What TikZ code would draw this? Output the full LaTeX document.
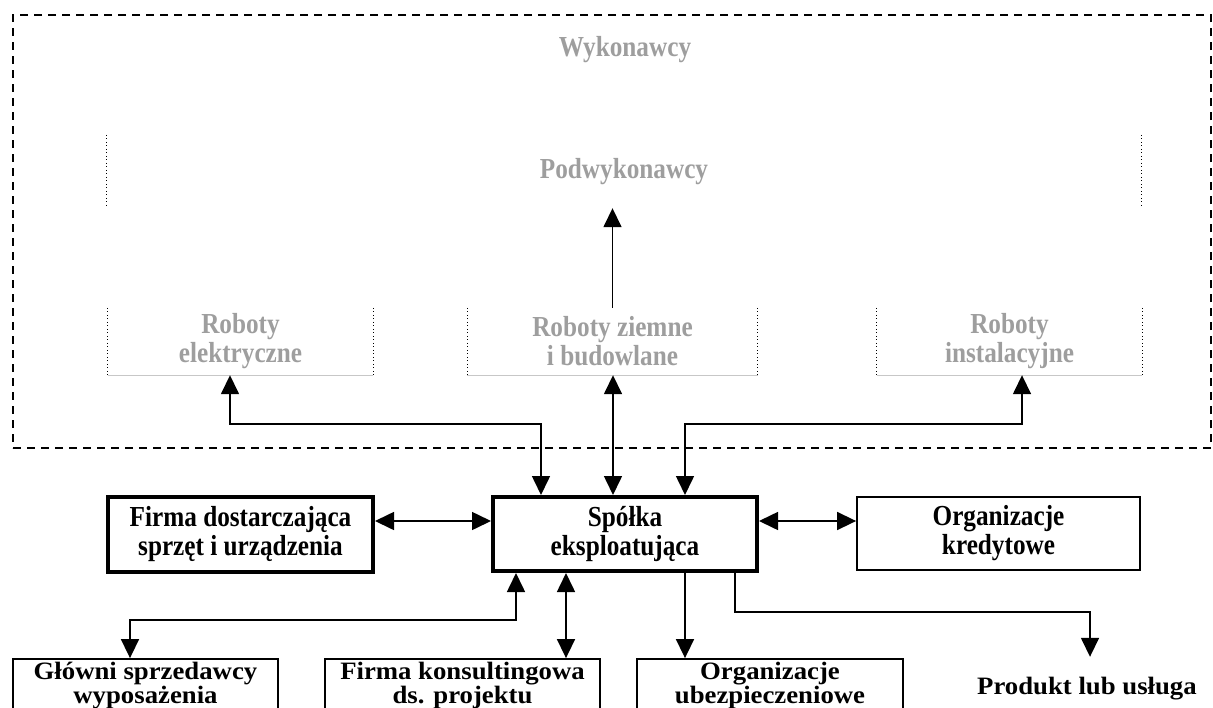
\documentclass[tikz,border=0pt]{standalone}
\usepackage{fontspec}
\newfontfamily\labfont{Liberation Serif}[FakeStretch=0.87]
\newfontfamily\lowfont{Liberation Serif}[FakeStretch=1.07]
\usetikzlibrary{arrows.meta}
\begin{document}
\begin{tikzpicture}[x=1pt,y=-1pt,
  lab/.style={font=\labfont\bfseries\fontsize{29}{29}\selectfont, align=center, inner sep=0pt},
  lowlab/.style={font=\lowfont\bfseries\fontsize{25}{20}\selectfont, align=center, inner sep=0pt},
  ghost/.style={lab, text=black!38},
  thickbox/.style={lab, draw, line width=4pt},
  thinbox/.style={lab, draw, line width=1.8pt},
  lowbox/.style={lowlab, draw, line width=1.8pt},
  dotside/.style={line width=1.1pt, dash pattern=on 1.1pt off 2.4pt},
  baseline/.style={black!22, line width=1pt},
  link/.style={line width=1.6pt},
  tip/.style={-{Triangle[length=19pt,width=18pt]}},
  both/.style={{Triangle[length=19pt,width=18pt]}-{Triangle[length=19pt,width=18pt]}}]
\useasboundingbox (0,0) rectangle (1213,707);
\clip (0,0) rectangle (1213,707);

% contractors' area
\node[draw, line width=1.5pt, dash pattern=on 8pt off 6pt, minimum width=1198pt, minimum height=433pt]
  (outer) at (612,231.5) {};
\node[ghost] (wyk) at (625,50) {Wykonawcy};
\node[ghost, minimum width=1034pt, minimum height=73pt] (pod) at (624,171.5) {Podwykonawcy};
\draw[dotside] (pod.north west) -- (pod.south west);
\draw[dotside] (pod.north east) -- (pod.south east);

\node[ghost, minimum width=265pt, minimum height=67pt] (r1) at (240.5,341.5) {Roboty\\elektryczne};
\node[ghost, minimum width=290pt, minimum height=67pt] (r2) at (612.5,341.5) {Roboty ziemne\\i budowlane};
\node[ghost, minimum width=265pt, minimum height=67pt] (r3) at (1009.5,341.5) {Roboty\\instalacyjne};
\foreach \b in {r1,r2,r3}{
  \draw[dotside] (\b.north west) -- (\b.south west);
  \draw[dotside] (\b.north east) -- (\b.south east);
  \draw[baseline] (\b.south west) -- (\b.south east);
}

% middle row
\node[thickbox, minimum width=265pt, minimum height=75pt] (firma) at (240.5,534.5) {Firma dostarczająca\\sprzęt i urządzenia};
\node[thickbox, minimum width=264pt, minimum height=74pt] (spolka) at (625,534) {Spółka\\eksploatująca};
\node[thinbox, minimum width=283pt, minimum height=73pt] (kred) at (998.5,533.5) {Organizacje\\kredytowe};

% bottom row
\node[lowbox, minimum width=265pt, minimum height=53pt] (glowni) at (145.5,685.5) {Główni sprzedawcy\\wyposażenia};
\node[lowbox, minimum width=275pt, minimum height=53pt] (konsult) at (462.5,685.5) {Firma konsultingowa\\ds. projektu};
\node[lowbox, minimum width=266pt, minimum height=53pt] (ubezp) at (770,685.5) {Organizacje\\ubezpieczeniowe};
\node[lowlab, minimum height=64pt] (produkt) at (1087,689) {Produkt lub usługa};

% links to the contractors
\draw[link, tip] (r2.north) -- (r2.north |- pod.south);
\coordinate (k1) at (230,424);
\coordinate (k2) at (541,424);
\coordinate (k3) at (685,424);
\coordinate (k4) at (1022,424);
\coordinate (km) at (613,424);
\draw[link, both] (r1.south -| k1) -- (k1) -- (k2) -- (spolka.north -| k2);
\draw[link, both] (r2.south -| km) -- (spolka.north -| km);
\draw[link, both] (r3.south -| k4) -- (k4) -- (k3) -- (spolka.north -| k3);

% side links
\coordinate (h) at (0,521);
\draw[link, both] (firma.east |- h) -- (spolka.west |- h);
\draw[link, both] (spolka.east |- h) -- (kred.west |- h);

% links to the bottom row
\coordinate (b1) at (516,620);
\coordinate (b2) at (130,620);
\coordinate (b3) at (566,600);
\coordinate (b4) at (685,600);
\coordinate (b5) at (735,612);
\coordinate (b6) at (1090,612);
\draw[link, both] (spolka.south -| b1) -- (b1) -- (b2) -- (glowni.north -| b2);
\draw[link, both] (spolka.south -| b3) -- (konsult.north -| b3);
\draw[link, tip] (spolka.south -| b4) -- (ubezp.north -| b4);
\draw[link, tip] (spolka.south -| b5) -- (b5) -- (b6) -- (produkt.north -| b6);
\end{tikzpicture}
\end{document}
